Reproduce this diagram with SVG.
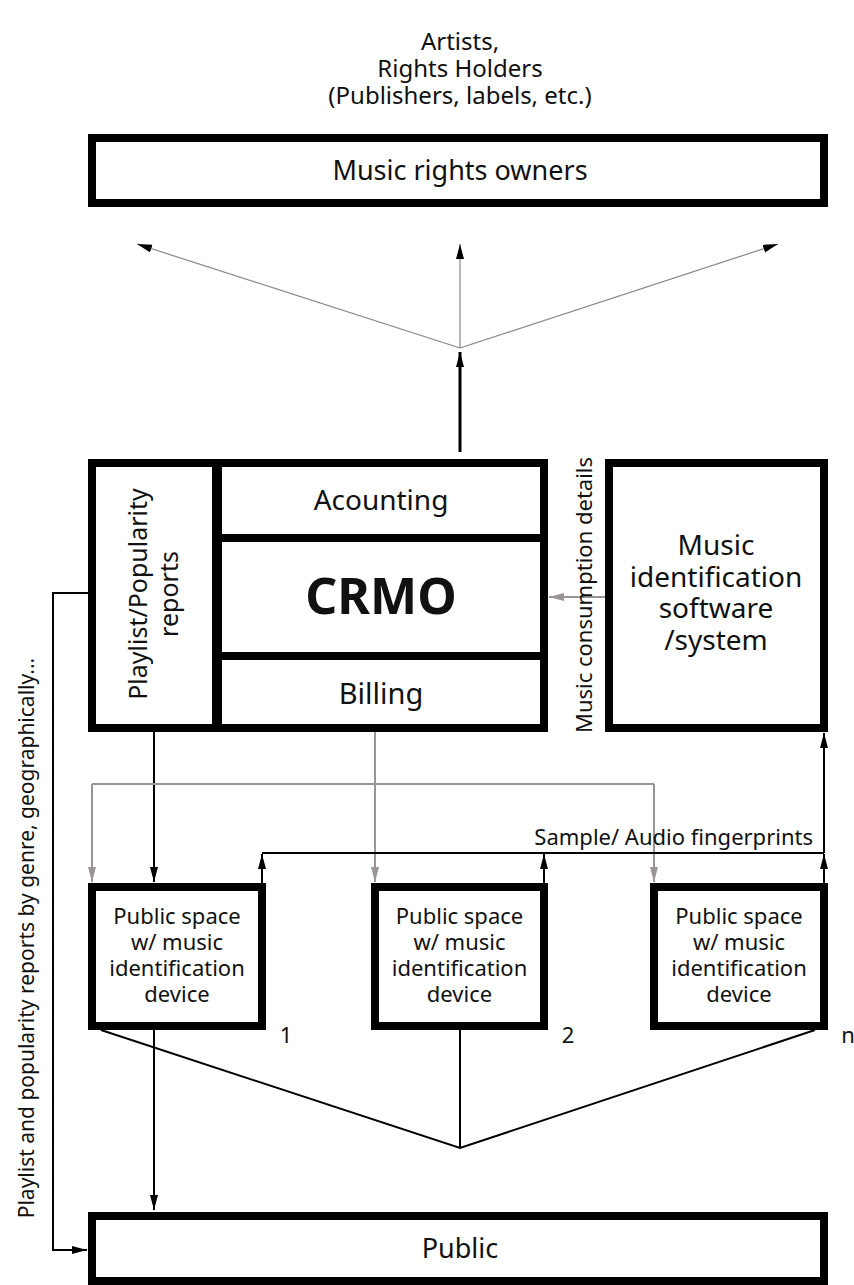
<svg xmlns="http://www.w3.org/2000/svg" width="854" height="1285" viewBox="0 0 854 1285">
<style>
.box{fill:#fff;stroke:#000;stroke-width:8}
.div{stroke:#000;fill:none}
.t{font-family:"Noto Sans","Open Sans",sans-serif;fill:#111;text-anchor:middle}
.blk{stroke:#000;stroke-width:2;fill:none}
.gry{stroke:#9a9594;stroke-width:2;fill:none}
.fan{stroke:#888;stroke-width:1.2;fill:none}
</style>
<defs>
<marker id="ab" markerUnits="userSpaceOnUse" markerWidth="16" markerHeight="10" refX="15" refY="4" orient="auto"><path d="M0,0 L15,4 L0,8 z" fill="#000"/></marker>
<marker id="ag" markerUnits="userSpaceOnUse" markerWidth="16" markerHeight="10" refX="15" refY="4" orient="auto"><path d="M0,0 L15,4 L0,8 z" fill="#9a9594"/></marker>
</defs>
<g id="title">
<text class="t" x="460" y="50" font-size="24">Artists,</text>
<text class="t" x="460" y="77" font-size="24">Rights Holders</text>
<text class="t" x="460" y="104" font-size="24">(Publishers, labels, etc.)</text>
</g>
<g id="rights-owners">
<rect class="box" x="92" y="138" width="732" height="65"/>
<text class="t" x="460" y="180" font-size="27">Music rights owners</text>
</g>
<g id="crmo">
<rect class="box" x="92" y="463" width="452" height="265"/>
<line class="div" x1="217" y1="463" x2="217" y2="728" stroke-width="10"/>
<line class="div" x1="217" y1="538" x2="544" y2="538" stroke-width="8"/>
<line class="div" x1="217" y1="656" x2="544" y2="656" stroke-width="8"/>
<text class="t" font-size="25" transform="translate(147,594) rotate(-90)">Playlist/Popularity</text>
<text class="t" font-size="25" transform="translate(178,594) rotate(-90)">reports</text>
<text class="t" x="381" y="510" font-size="28">Acounting</text>
<text class="t" x="381" y="614" font-size="50" font-weight="bold">CRMO</text>
<text class="t" x="381" y="704" font-size="29">Billing</text>
</g>
<g id="music-id">
<rect class="box" x="609" y="463" width="215" height="265"/>
<text class="t" x="716" y="555" font-size="28">Music</text>
<text class="t" x="716" y="587" font-size="28">identification</text>
<text class="t" x="716" y="618" font-size="28">software</text>
<text class="t" x="716" y="650" font-size="28">/system</text>
</g>
<g id="space1">
<rect class="box" x="92" y="887" width="170" height="139"/>
<text class="t" x="177" y="924" font-size="22">Public space</text>
<text class="t" x="177" y="950" font-size="22">w/ music</text>
<text class="t" x="177" y="976" font-size="22">identification</text>
<text class="t" x="177" y="1002" font-size="22">device</text>
<text class="t" x="286" y="1043" font-size="22">1</text>
</g>
<g id="space2">
<rect class="box" x="375" y="887" width="169" height="139"/>
<text class="t" x="459.5" y="924" font-size="22">Public space</text>
<text class="t" x="459.5" y="950" font-size="22">w/ music</text>
<text class="t" x="459.5" y="976" font-size="22">identification</text>
<text class="t" x="459.5" y="1002" font-size="22">device</text>
<text class="t" x="568" y="1043" font-size="22">2</text>
</g>
<g id="space3">
<rect class="box" x="654" y="887" width="170" height="139"/>
<text class="t" x="739" y="924" font-size="22">Public space</text>
<text class="t" x="739" y="950" font-size="22">w/ music</text>
<text class="t" x="739" y="976" font-size="22">identification</text>
<text class="t" x="739" y="1002" font-size="22">device</text>
<text class="t" x="848" y="1043" font-size="22">n</text>
</g>
<g id="public">
<rect class="box" x="92" y="1216" width="732" height="65"/>
<text class="t" x="460" y="1258" font-size="27">Public</text>
</g>
<g id="connectors">
<line x1="460" y1="452" x2="460" y2="352" stroke="#000" stroke-width="3" marker-end="url(#ab)"/>
<line class="fan" x1="460" y1="348" x2="137" y2="244" marker-end="url(#ab)"/>
<line class="fan" x1="460" y1="348" x2="460" y2="244" marker-end="url(#ab)"/>
<line class="fan" x1="460" y1="348" x2="778" y2="244" marker-end="url(#ab)"/>
<line class="gry" x1="605" y1="597" x2="549" y2="597" marker-end="url(#ag)"/>
<polyline class="blk" points="88,593 53,593 53,1250 87,1250" marker-end="url(#ab)"/>
<line class="blk" x1="154" y1="732" x2="154" y2="882" marker-end="url(#ab)"/>
<line class="gry" x1="375" y1="732" x2="375" y2="882" marker-end="url(#ag)"/>
<line class="gry" x1="92" y1="784" x2="654" y2="784"/>
<line class="gry" x1="92" y1="784" x2="92" y2="882" marker-end="url(#ag)"/>
<line class="gry" x1="654" y1="784" x2="654" y2="882" marker-end="url(#ag)"/>
<line class="blk" x1="262" y1="883" x2="262" y2="854" marker-end="url(#ab)"/>
<line class="blk" x1="544" y1="883" x2="544" y2="854" marker-end="url(#ab)"/>
<line class="blk" x1="824" y1="883" x2="824" y2="854" marker-end="url(#ab)"/>
<line class="blk" x1="262" y1="853" x2="824" y2="853"/>
<line class="blk" x1="824" y1="853" x2="824" y2="733" marker-end="url(#ab)"/>
<polyline class="blk" points="101,1030 460,1148 815,1030" stroke-width="2.5"/>
<line class="blk" x1="460" y1="1030" x2="460" y2="1148" stroke-width="2.5"/>
<line class="blk" x1="154" y1="1030" x2="154" y2="1210" marker-end="url(#ab)"/>
<text class="t" x="813" y="845" font-size="22" style="text-anchor:end">Sample/ Audio fingerprints</text>
<text class="t" font-size="22" transform="translate(592,595) rotate(-90)">Music consumption details</text>
<text class="t" font-size="21" transform="translate(34,938) rotate(-90)">Playlist and popularity reports by genre, geographically...</text>
</g>
</svg>
